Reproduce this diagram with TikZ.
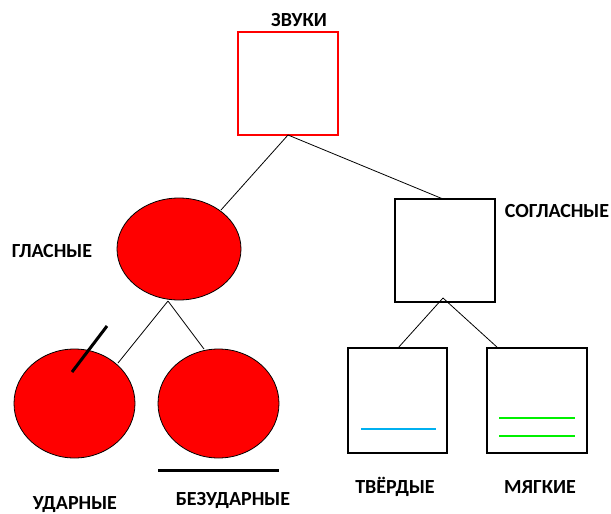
\documentclass[tikz,border=0pt]{standalone}
\usepackage{fontspec}
\setmainfont{Carlito}
\usetikzlibrary{shapes.geometric}
\begin{document}
\begin{tikzpicture}[x=1pt,y=-1pt,
  lbl/.style={font=\bfseries\fontsize{20}{24}\selectfont, inner sep=0pt, anchor=base},
  conn/.style={draw=black, line width=0.8pt},
  sqbox/.style={draw=black, line width=2pt, fill=white},
  redel/.style={draw=black, line width=0.8pt, fill=red}]
\useasboundingbox (0,0) rectangle (611,514);
% top box
\draw[red, line width=2pt, fill=white] (238,32) rectangle (338,135);
\coordinate (top) at (288,135);
\node[lbl] (zvuki) at (299,27) {ЗВУКИ};
% vowels
\node[redel, ellipse, minimum width=124pt, minimum height=102pt, inner sep=0pt] (gl) at (179,249) {};
\node[lbl] (gllbl) at (52,257) {ГЛАСНЫЕ};
% consonants
\node[sqbox, minimum width=100pt, minimum height=103pt, inner sep=0pt] (sogl) at (445,250.5) {};
\node[lbl] (sogllbl) at (557,217) {СОГЛАСНЫЕ};
\coordinate (soglTop) at (443,199);
\coordinate (glTop) at (221,210);
\draw[conn] (top) -- (glTop);
\draw[conn] (top) -- (soglTop);
% bottom vowels
\node[redel, ellipse, minimum width=121pt, minimum height=109pt, inner sep=0pt] (ud) at (74.5,403.5) {};
\node[redel, ellipse, minimum width=121pt, minimum height=109pt, inner sep=0pt] (bez) at (218.5,403.5) {};
\coordinate (glBot) at (168,301);
\coordinate (udTop) at (118,363);
\coordinate (bezTop) at (204,349);
\draw[conn] (glBot) -- (udTop);
\draw[conn] (glBot) -- (bezTop);
\coordinate (sA) at (107,326);
\coordinate (sB) at (72,372);
\draw[line width=3pt] (sA) -- (sB);
\coordinate (uA) at (158,470);
\coordinate (uB) at (279,470);
\draw[line width=3pt] (uA) -- (uB);
\node[lbl] (udlbl) at (75,509.5) {УДАРНЫЕ};
\node[lbl] (bezlbl) at (233,505) {БЕЗУДАРНЫЕ};
% bottom consonants
\node[sqbox, minimum width=99pt, minimum height=105pt, inner sep=0pt] (tv) at (397.5,400.5) {};
\node[sqbox, minimum width=100pt, minimum height=105pt, inner sep=0pt] (mg) at (537,400.5) {};
\coordinate (soglBot) at (443,298);
\coordinate (tvTop) at (398,348);
\coordinate (mgTop) at (498,348);
\draw[conn] (soglBot) -- (tvTop);
\draw[conn] (soglBot) -- (mgTop);
\definecolor{hardblue}{RGB}{0,176,240}
\definecolor{softgreen}{RGB}{0,240,0}
\coordinate (bA) at (361,429);
\coordinate (bB) at (436,429);
\draw[hardblue, line width=2.5pt] (bA) -- (bB);
\coordinate (g1A) at (499,418);
\coordinate (g1B) at (575,418);
\coordinate (g2A) at (499,436);
\coordinate (g2B) at (575,436);
\draw[softgreen, line width=2.5pt] (g1A) -- (g1B);
\draw[softgreen, line width=2.5pt] (g2A) -- (g2B);
\node[lbl] (tvlbl) at (395,493) {ТВЁРДЫЕ};
\node[lbl] (mglbl) at (540,493) {МЯГКИЕ};
\end{tikzpicture}
\end{document}
